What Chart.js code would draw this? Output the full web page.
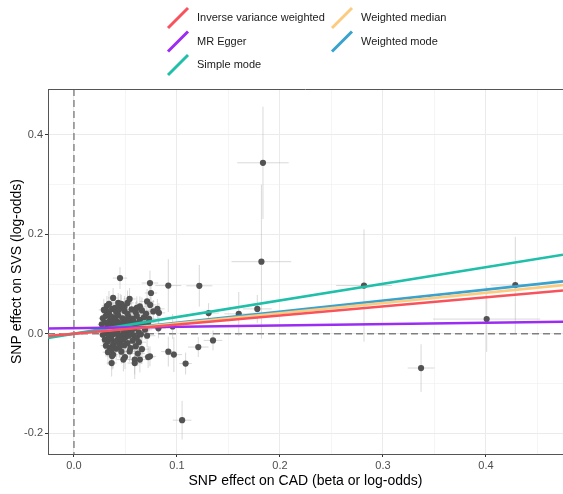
<!DOCTYPE html>
<html>
<head>
<meta charset="utf-8">
<script src="https://cdn.jsdelivr.net/npm/chart.js@4"></script>
<style>
  body { margin: 0; background: #fff; }
  canvas { display: block; }
</style>
</head>
<body>
<canvas id="grafico" width="563" height="494"></canvas>
<script>
// SNP effects on exposure (CAD) and outcome (SVS)
const snpX = [
  0.0447, 0.0738, 0.0916, 0.0748, 0.038, 0.054, 0.071, 0.032, 0.043, 0.046, 0.064, 0.074, 0.081, 0.0825, 0.0317,
  0.1217, 0.1307, 0.160, 0.178, 0.0958, 0.082, 0.135, 0.1207, 0.0916, 0.097, 0.1084, 0.105, 0.0738,
  0.1835, 0.182, 0.2816, 0.4007, 0.4285, 0.337,
  0.029, 0.034, 0.037, 0.041, 0.045, 0.049, 0.052, 0.056, 0.060, 0.066, 0.070, 0.077,
  0.028, 0.031, 0.035, 0.038, 0.040, 0.043, 0.047, 0.050, 0.053, 0.057, 0.061, 0.064, 0.068, 0.073,
  0.027, 0.030, 0.033, 0.036, 0.039, 0.042, 0.044, 0.048, 0.051, 0.055, 0.058, 0.062, 0.067, 0.072,
  0.029, 0.032, 0.035, 0.037, 0.041, 0.046, 0.049, 0.053, 0.056, 0.059, 0.063, 0.069,
  0.028, 0.031, 0.034, 0.038, 0.040, 0.043, 0.047, 0.050, 0.054, 0.058, 0.061, 0.065, 0.071,
  0.030, 0.033, 0.036, 0.039, 0.042, 0.045, 0.048, 0.052, 0.057, 0.063,
  0.031, 0.035, 0.038, 0.041, 0.044, 0.049, 0.055, 0.060, 0.066,
  0.0366, 0.038, 0.0495, 0.059, 0.064, 0.072, 0.0366, 0.059, 0.054, 0.062, 0.0447, 0.0414, 0.046, 0.033,
  0.039, 0.044, 0.051, 0.047, 0.042, 0.055, 0.036, 0.053, 0.045, 0.058, 0.040, 0.049, 0.034, 0.061, 0.043, 0.052, 0.037, 0.048
];
const snpY = [
  0.112, 0.102, 0.097, 0.082, 0.072, 0.070, 0.065, 0.056, 0.062, 0.060, 0.055, 0.058, 0.050, 0.042, 0.045,
  0.0965, 0.0415, 0.040, 0.050, 0.0147, 0.011, -0.0134, -0.0268, -0.036, -0.042, -0.060, -0.174, -0.0455,
  0.344, 0.145, 0.097, 0.0295, 0.098, -0.069,
  0.048, 0.041, 0.050, 0.044, 0.052, 0.046, 0.040, 0.049, 0.043, 0.047, 0.040, 0.045,
  0.031, 0.036, 0.027, 0.033, 0.029, 0.037, 0.031, 0.026, 0.034, 0.030, 0.036, 0.028, 0.033, 0.030,
  0.019, 0.023, 0.016, 0.021, 0.018, 0.024, 0.015, 0.020, 0.017, 0.023, 0.014, 0.020, 0.018, 0.022,
  0.008, 0.011, 0.005, 0.012, 0.007, 0.010, 0.004, 0.009, 0.006, 0.011, 0.003, 0.008,
  -0.002, 0.001, -0.005, -0.001, 0.002, -0.004, -0.002, -0.007, 0.000, -0.003, -0.008, -0.001, -0.004,
  -0.012, -0.015, -0.010, -0.018, -0.013, -0.016, -0.011, -0.019, -0.014, -0.017,
  -0.024, -0.028, -0.022, -0.030, -0.026, -0.023, -0.029, -0.025, -0.031,
  -0.032, -0.042, -0.047, -0.052, -0.052, -0.047, -0.059, -0.059, -0.0355, -0.040, -0.0255, -0.0155, -0.036, -0.037,
  0.026, 0.021, 0.029, 0.013, 0.003, 0.016, 0.034, -0.004, -0.009, 0.025, 0.052, 0.055, 0.060, 0.052, 0.047, 0.062, -0.045, -0.052
];
const seX = [
  0.007, 0.008, 0.0126, 0.006, 0.005, 0.006, 0.007, 0.005, 0.006, 0.005, 0.006, 0.006, 0.007, 0.006, 0.005,
  0.0126, 0.010, 0.014, 0.014, 0.008, 0.007, 0.009, 0.010, 0.007, 0.008, 0.006, 0.009, 0.006,
  0.025, 0.029, 0.027, 0.052, 0.024, 0.013,
  0.005, 0.006, 0.005, 0.007, 0.006, 0.005, 0.006, 0.008, 0.006, 0.007, 0.006, 0.008,
  0.004, 0.005, 0.006, 0.005, 0.004, 0.006, 0.005, 0.007, 0.006, 0.005, 0.007, 0.006, 0.008, 0.007,
  0.004, 0.005, 0.004, 0.006, 0.005, 0.005, 0.004, 0.006, 0.005, 0.007, 0.005, 0.006, 0.007, 0.008,
  0.004, 0.005, 0.005, 0.004, 0.006, 0.005, 0.006, 0.005, 0.007, 0.006, 0.006, 0.007,
  0.004, 0.004, 0.005, 0.005, 0.004, 0.006, 0.005, 0.006, 0.005, 0.007, 0.006, 0.006, 0.008,
  0.004, 0.005, 0.005, 0.006, 0.005, 0.006, 0.005, 0.007, 0.006, 0.007,
  0.005, 0.005, 0.006, 0.005, 0.006, 0.005, 0.007, 0.006, 0.007,
  0.005, 0.005, 0.006, 0.006, 0.007, 0.006, 0.005, 0.007, 0.006, 0.007, 0.005, 0.005, 0.006, 0.005,
  0.005, 0.006, 0.005, 0.006, 0.005, 0.006, 0.005, 0.006, 0.005, 0.007, 0.006, 0.005, 0.005, 0.007, 0.006, 0.006, 0.005, 0.006
];
const seY = [
  0.022, 0.025, 0.053, 0.020, 0.020, 0.022, 0.025, 0.020, 0.020, 0.018, 0.020, 0.022, 0.020, 0.020, 0.018,
  0.042, 0.020, 0.044, 0.028, 0.025, 0.020, 0.020, 0.020, 0.030, 0.035, 0.022, 0.039, 0.020,
  0.113, 0.155, 0.113, 0.066, 0.097, 0.048,
  0.022, 0.018, 0.025, 0.020, 0.028, 0.019, 0.017, 0.024, 0.021, 0.026, 0.018, 0.023,
  0.016, 0.021, 0.018, 0.024, 0.015, 0.020, 0.019, 0.026, 0.017, 0.022, 0.030, 0.018, 0.021, 0.025,
  0.019, 0.015, 0.022, 0.017, 0.020, 0.014, 0.023, 0.018, 0.016, 0.021, 0.019, 0.027, 0.020, 0.024,
  0.017, 0.020, 0.016, 0.022, 0.018, 0.015, 0.024, 0.019, 0.021, 0.017, 0.026, 0.020,
  0.018, 0.015, 0.021, 0.017, 0.019, 0.022, 0.016, 0.024, 0.018, 0.020, 0.025, 0.019, 0.023,
  0.020, 0.017, 0.023, 0.019, 0.021, 0.025, 0.018, 0.022, 0.027, 0.020,
  0.022, 0.026, 0.019, 0.024, 0.021, 0.028, 0.023, 0.025, 0.030,
  0.025, 0.028, 0.024, 0.030, 0.026, 0.022, 0.027, 0.032, 0.021, 0.025, 0.020, 0.019, 0.024, 0.026,
  0.020, 0.018, 0.024, 0.017, 0.021, 0.019, 0.023, 0.018, 0.022, 0.020, 0.024, 0.021, 0.026, 0.023, 0.019, 0.025, 0.027, 0.024
];

// MR methods: slope and intercept of each fitted line
const metodos = ['Inverse variance weighted', 'MR Egger', 'Simple mode', 'Weighted median', 'Weighted mode'];
const slopes = [0.183, 0.027, 0.335, 0.206, 0.222];
const intercepts = [0, 0.0113, 0, 0, 0];
const cores = ['#F8535C', '#9B2CF2', '#1FBFA9', '#FDCB7F', '#3AA2CE'];

// Axis ranges and ticks
const xMin = -0.0252, xMax = 0.4748;
const yMin = -0.242, yMax = 0.4925;
const xTicks = [0, 0.05, 0.1, 0.15, 0.2, 0.25, 0.3, 0.35, 0.4, 0.45];
const yTicks = [-0.2, -0.1, 0, 0.1, 0.2, 0.3, 0.4];

const fonte = '"Liberation Sans", Arial, sans-serif';
const isMajorX = v => Math.abs(v * 10 - Math.round(v * 10)) < 1e-6;
const isMajorY = v => Math.abs(v * 5 - Math.round(v * 5)) < 1e-6;

// Extra drawing: zero lines, error bars, border, legend, axis titles
const extras = {
  id: 'mrExtras',
  beforeDatasetsDraw(chart) {
    const { ctx, chartArea: a, scales: { x, y } } = chart;
    ctx.save();
    ctx.beginPath();
    ctx.rect(a.left, a.top, a.right - a.left, a.bottom - a.top);
    ctx.clip();

    // dashed zero lines
    ctx.strokeStyle = '#808080';
    ctx.lineWidth = 1.4;
    ctx.setLineDash([7, 4]);
    const x0 = x.getPixelForValue(0), y0 = y.getPixelForValue(0);
    ctx.beginPath();
    ctx.moveTo(x0, a.top); ctx.lineTo(x0, a.bottom);
    ctx.moveTo(a.left, y0); ctx.lineTo(a.right, y0);
    ctx.stroke();
    ctx.setLineDash([]);

    // error bars
    ctx.strokeStyle = 'rgba(170,170,170,0.45)';
    ctx.lineWidth = 1;
    snpX.forEach((bx, i) => {
      const by = snpY[i];
      ctx.beginPath();
      ctx.moveTo(x.getPixelForValue(bx), y.getPixelForValue(by - seY[i]));
      ctx.lineTo(x.getPixelForValue(bx), y.getPixelForValue(by + seY[i]));
      ctx.moveTo(x.getPixelForValue(bx - seX[i]), y.getPixelForValue(by));
      ctx.lineTo(x.getPixelForValue(bx + seX[i]), y.getPixelForValue(by));
      ctx.stroke();
    });
    ctx.restore();
  },
  afterDraw(chart) {
    const { ctx, chartArea: a } = chart;
    ctx.save();
    // top border of the panel
    ctx.strokeStyle = '#555';
    ctx.lineWidth = 1;
    ctx.beginPath();
    ctx.moveTo(a.left, a.top + 0.5); ctx.lineTo(a.right, a.top + 0.5);
    ctx.stroke();

    // legend in two columns
    const colX = [168, 332];
    const rowY = [18, 41.5, 65];
    const ordem = [[0, 0, 0], [1, 0, 1], [2, 0, 2], [3, 1, 0], [4, 1, 1]];
    ctx.font = '11px ' + fonte;
    ctx.textBaseline = 'middle';
    ordem.forEach(([m, c, r]) => {
      const kx = colX[c], ky = rowY[r];
      ctx.strokeStyle = cores[m];
      ctx.lineWidth = 3;
      ctx.beginPath();
      ctx.moveTo(kx, ky + 10); ctx.lineTo(kx + 20, ky - 10);
      ctx.stroke();
      ctx.fillStyle = '#1a1a1a';
      ctx.fillText(metodos[m], kx + 29, ky);
    });

    // axis titles
    ctx.fillStyle = '#000';
    ctx.font = '14px ' + fonte;
    ctx.textAlign = 'center';
    ctx.fillText('SNP effect on CAD (beta or log-odds)', (a.left + a.right) / 2, 481);
    ctx.translate(17, (a.top + a.bottom) / 2);
    ctx.rotate(-Math.PI / 2);
    ctx.fillText('SNP effect on SVS (log-odds)', 0, 0);
    ctx.restore();
  }
};

const linhas = metodos.map((m, i) => ({
  type: 'line',
  label: m,
  data: [
    { x: xMin, y: intercepts[i] + slopes[i] * xMin },
    { x: xMax, y: intercepts[i] + slopes[i] * xMax }
  ],
  borderColor: cores[i],
  borderWidth: 2.6,
  pointRadius: 0,
  fill: false,
  order: 1
}));

new Chart(document.getElementById('grafico').getContext('2d'), {
  type: 'scatter',
  data: {
    datasets: [{
      label: 'SNPs',
      data: snpX.map((v, i) => ({ x: v, y: snpY[i] })),
      backgroundColor: '#535353',
      borderWidth: 0,
      pointRadius: 3.1,
      order: 2
    }, ...linhas]
  },
  options: {
    responsive: false,
    animation: false,
    layout: { autoPadding: false, padding: { top: 89, left: 0, right: 0, bottom: 0 } },
    plugins: { legend: { display: false }, tooltip: { enabled: false } },
    scales: {
      x: {
        type: 'linear',
        min: xMin, max: xMax,
        afterBuildTicks: s => { s.ticks = xTicks.map(v => ({ value: v })); },
        afterFit: s => { s.height = 40; s.paddingLeft = 0; s.paddingRight = 0; },
        ticks: {
          callback: v => isMajorX(v) ? v.toFixed(1) : '',
          color: '#4d4d4d', font: { family: fonte, size: 11 }, padding: 2, maxRotation: 0, autoSkip: false
        },
        grid: {
          color: '#ebebeb',
          lineWidth: c => isMajorX(c.tick.value) ? 1 : 0.5,
          tickLength: 3,
          tickColor: c => isMajorX(c.tick.value) ? '#333' : 'rgba(0,0,0,0)'
        },
        border: { display: true, color: '#555', width: 1 }
      },
      y: {
        type: 'linear',
        min: yMin, max: yMax,
        afterBuildTicks: s => { s.ticks = yTicks.map(v => ({ value: v })); },
        afterFit: s => { s.width = 48; s.paddingTop = 0; s.paddingBottom = 0; },
        ticks: {
          callback: v => isMajorY(v) ? v.toFixed(1) : '',
          color: '#4d4d4d', font: { family: fonte, size: 11 }, padding: 2, autoSkip: false
        },
        grid: {
          color: '#ebebeb',
          lineWidth: c => isMajorY(c.tick.value) ? 1 : 0.5,
          tickLength: 3,
          tickColor: c => isMajorY(c.tick.value) ? '#333' : 'rgba(0,0,0,0)'
        },
        border: { display: true, color: '#555', width: 1 }
      }
    }
  },
  plugins: [extras]
});
</script>
</body>
</html>
